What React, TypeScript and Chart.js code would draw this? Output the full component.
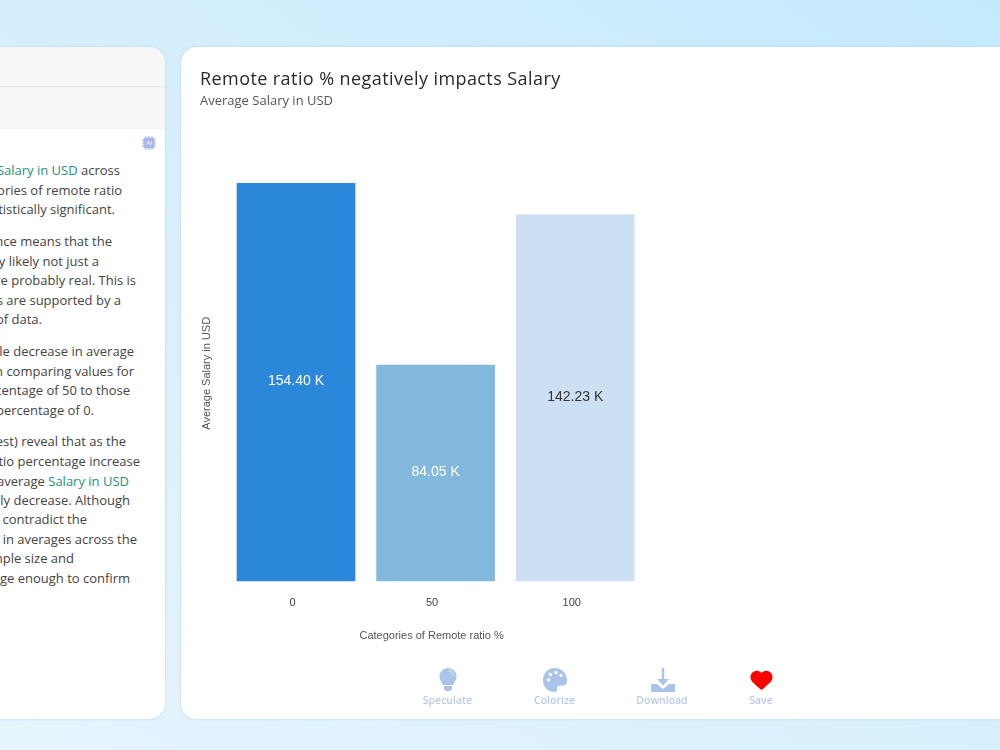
import React, { useEffect, useRef } from "react";
import { Chart, registerables } from "chart.js";

Chart.register(...registerables);

const categories = ["0", "50", "100"];
const salaryValues = [154.4, 84.05, 142.23];
const valueLabels = ["154.40 K", "84.05 K", "142.23 K"];
const barColors = ["#2b87d9", "#82b8dc", "#cddff2"];
const valueLabelColors = ["#ffffff", "#ffffff", "#333333"];
const chartTitle = "Remote ratio % negatively impacts Salary";
const chartSubtitle = "Average Salary in USD";
const xAxisTitle = "Categories of Remote ratio %";
const yAxisTitle = "Average Salary in USD";

type Part = { t: string; green?: boolean };
const panelLines: [number, number, Part[]][] = [
  [170, 120, [{ t: "Salary in USD", green: true }, { t: " across" }]],
  [189.5, 122, [{ t: "categories of remote ratio" }]],
  [209, 115, [{ t: "statistically significant." }]],
  [241, 112, [{ t: "significance means that the" }]],
  [261, 99, [{ t: "very likely not just a" }]],
  [280, 136, [{ t: "are probably real. This is" }]],
  [300, 121, [{ t: "results are supported by a" }]],
  [319, 42, [{ t: "of data." }]],
  [351, 134, [{ t: "noticeable decrease in average" }]],
  [371, 134, [{ t: "when comparing values for" }]],
  [390, 130, [{ t: "percentage of 50 to those" }]],
  [410, 94, [{ t: "percentage of 0." }]],
  [441, 126, [{ t: "test) reveal that as the" }]],
  [461, 140, [{ t: "ratio percentage increase" }]],
  [481, 129, [{ t: "average " }, { t: "Salary in USD", green: true }]],
  [500, 130, [{ t: "likely decrease. Although" }]],
  [519, 87, [{ t: "contradict the" }]],
  [539, 137, [{ t: "in averages across the" }]],
  [558, 74, [{ t: "sample size and" }]],
  [578, 130, [{ t: "large enough to confirm" }]],
];

const actions = [
  { label: "Speculate", x: 447.5 },
  { label: "Colorize", x: 554.5 },
  { label: "Download", x: 662 },
  { label: "Save", x: 761 },
];

const valueLabelPlugin = {
  id: "valueLabels",
  afterDatasetsDraw(chart: any) {
    const { ctx } = chart;
    const meta = chart.getDatasetMeta(0);
    ctx.save();
    ctx.font = '14px "Liberation Sans", Arial, sans-serif';
    ctx.textAlign = "center";
    ctx.textBaseline = "middle";
    meta.data.forEach((bar: any, i: number) => {
      ctx.fillStyle = valueLabelColors[i];
      ctx.fillText(valueLabels[i], bar.x, (bar.y + bar.base) / 2 - 1);
    });
    ctx.restore();
  },
};

// The reference's x-axis title sits a little left of the plot's centre.
const shiftXTitlePlugin = {
  id: "shiftXTitle",
  afterLayout(chart: any) {
    chart.scales.x.left -= 8;
  },
};

const iconColor = "#a9c4e8";

function Icon({ x, y, w, h, vb, children }: any) {
  return (
    <svg
      viewBox={vb}
      style={{ position: "absolute", left: x, top: y, width: w, height: h }}
    >
      {children}
    </svg>
  );
}

export default function App() {
  const ref = useRef<HTMLCanvasElement>(null);

  useEffect(() => {
    document.body.style.margin = "0";
    const chart = new Chart(ref.current as HTMLCanvasElement, {
      type: "bar",
      data: {
        labels: categories,
        datasets: [
          {
            data: salaryValues,
            backgroundColor: barColors,
            barPercentage: 0.85,
            categoryPercentage: 1,
          },
        ],
      },
      options: {
        animation: false,
        responsive: false,
        layout: { padding: { left: 19, top: 118, right: 355, bottom: 76 } },
        plugins: { legend: { display: false }, tooltip: { enabled: false } },
        scales: {
          x: {
            grid: { display: false },
            border: { display: false },
            ticks: {
              padding: 7,
              labelOffset: -3.5,
              color: "#444444",
              font: { family: '"Liberation Sans", Arial, sans-serif', size: 11 },
            },
            title: {
              display: true,
              text: xAxisTitle,
              color: "#555555",
              padding: { top: 13, bottom: 0 },
              font: { family: '"Liberation Sans", Arial, sans-serif', size: 11 },
            },
          },
          y: {
            min: 0,
            max: 161.4,
            grid: { display: false },
            border: { display: false },
            ticks: { display: false },
            title: {
              display: true,
              text: yAxisTitle,
              color: "#555555",
              padding: { top: 0, bottom: 5 },
              font: { family: '"Liberation Sans", Arial, sans-serif', size: 11 },
            },
          },
        },
      },
      plugins: [valueLabelPlugin, shiftXTitlePlugin],
    } as any);
    return () => chart.destroy();
  }, []);

  return (
    <div
      style={{
        position: "fixed",
        left: 0,
        top: 0,
        width: 1000,
        height: 750,
        overflow: "hidden",
        background: "linear-gradient(215deg, #c4e9fd 0%, #d6effd 45%, #e6f4fd 100%)",
        fontFamily: '"Open Sans", sans-serif',
      }}
    >
      {/* left panel */}
      <div
        style={{
          position: "absolute",
          left: -300,
          top: 47,
          width: 465,
          height: 672,
          background: "#fff",
          borderRadius: 16,
          overflow: "hidden",
          boxShadow: "0 0 3px rgba(120,170,210,0.35)",
        }}
      >
        <div style={{ height: 39, background: "#f7f7f7", borderBottom: "1px solid #e6e6e6" }} />
        <div style={{ height: 41, background: "#f7f7f7", borderBottom: "1px solid #f2f2f2" }} />
      </div>
      <Icon x={142} y={136} w={14} h={14} vb="0 0 14 14">
        <rect x="1.500" y="1.500" width="11" height="11" rx="2" fill="#a9b6ea" />
        <path
          d="M4 0v14M7 0v14M10 0v14M0 4h14M0 7h14M0 10h14"
          stroke="#a9b6ea"
          strokeWidth="1"
        />
        <text x="7" y="9" textAnchor="middle" fontSize="6" fontWeight="700" fill="#e4e8fa" fontFamily="Liberation Sans">
          AI
        </text>
      </Icon>
      {panelLines.map(([y, right, parts], i) => (
        <div
          key={i}
          style={{
            position: "absolute",
            right: 1000 - right,
            top: y - 10,
            height: 20,
            lineHeight: "20px",
            fontSize: 13,
            color: "#444444",
            whiteSpace: "pre",
          }}
        >
          {parts.map((p, j) => (
            <span key={j} style={p.green ? { color: "#1f9080" } : undefined}>
              {p.t}
            </span>
          ))}
        </div>
      ))}

      {/* right panel */}
      <div
        style={{
          position: "absolute",
          left: 181,
          top: 47,
          width: 900,
          height: 672,
          background: "#fff",
          borderRadius: 16,
          boxShadow: "0 0 3px rgba(120,170,210,0.35)",
        }}
      />
      <canvas
        ref={ref}
        width={819}
        height={672}
        style={{ position: "absolute", left: 181, top: 47, width: 819, height: 672 }}
      />
      <div
        style={{
          position: "absolute",
          left: 200,
          top: 66,
          fontSize: 18,
          lineHeight: "25px",
          fontWeight: 500,
          letterSpacing: 0.42,
          color: "#2a2a2a",
          whiteSpace: "nowrap",
        }}
      >
        {chartTitle}
      </div>
      <div
        style={{
          position: "absolute",
          left: 200,
          top: 90,
          fontSize: 13,
          lineHeight: "20px",
          color: "#555555",
          whiteSpace: "nowrap",
        }}
      >
        {chartSubtitle}
      </div>

      {/* action icons */}
      <Icon x={439} y={668} w={18} h={24} vb="0 0 18 24">
        <path
          d="M9 0a8.600 8.600 0 0 1 8.600 8.600c0 3.600-2.600 5.600-3.400 8.400H3.800C3 14.200.4 12.200.4 8.600A8.600 8.600 0 0 1 9 0z"
          fill={iconColor}
        />
        <path d="M9 2.500a6 6 0 0 1 6 6" stroke="#c6d8f0" strokeWidth="1.500" fill="none" />
        <path d="M5 18h8v3l-2 2H7l-2-2z" fill={iconColor} />
      </Icon>
      <Icon x={543} y={668} w={24} h={24} vb="0 0 24 24">
        <path
          d="M12 0C5 0 0 5 0 12s5 12 11.500 12c2 0 3-1.300 2.600-3-.4-1.800.6-3.500 2.900-3.500h3c2.700 0 4-2 4-5C24 5 18.500 0 12 0z"
          fill={iconColor}
        />
        <circle cx="5.500" cy="12" r="1.700" fill="#fff" />
        <circle cx="7.500" cy="6.500" r="1.700" fill="#fff" />
        <circle cx="13" cy="4.500" r="1.700" fill="#fff" />
        <circle cx="18" cy="7.500" r="1.700" fill="#fff" />
      </Icon>
      <Icon x={651} y={668} w={24} h={24} vb="0 0 24 24">
        <path d="M10.800 0h2.400v11h4.800l-6 6.500L6 11h4.800z" fill={iconColor} />
        <path d="M0 16h6l6 5 6-5h6v8H0z" fill={iconColor} />
      </Icon>
      <Icon x={750} y={669} w={23} h={22} vb="0 0 512 512">
        <path
          d="M47.6 300.4L228.3 469.1c7.5 7 17.4 10.9 27.7 10.9s20.2-3.9 27.7-10.9L464.4 300.4c30.4-28.3 47.6-68 47.6-109.5v-5.8c0-69.9-50.5-129.5-119.4-141C347 36.5 300.6 51.4 268 84L256 96 244 84c-32.6-32.6-79-47.5-124.6-39.9C50.5 55.6 0 115.2 0 185.1v5.800c0 41.500 17.200 81.200 47.600 109.500z"
          fill="#ff0000"
        />
      </Icon>
      {actions.map((a) => (
        <div
          key={a.label}
          style={{
            position: "absolute",
            left: a.x - 40,
            width: 80,
            top: 692,
            height: 16,
            lineHeight: "16px",
            textAlign: "center",
            fontSize: 10.5,
            fontWeight: 600,
            color: "#b9cce6",
          }}
        >
          {a.label}
        </div>
      ))}
    </div>
  );
}
